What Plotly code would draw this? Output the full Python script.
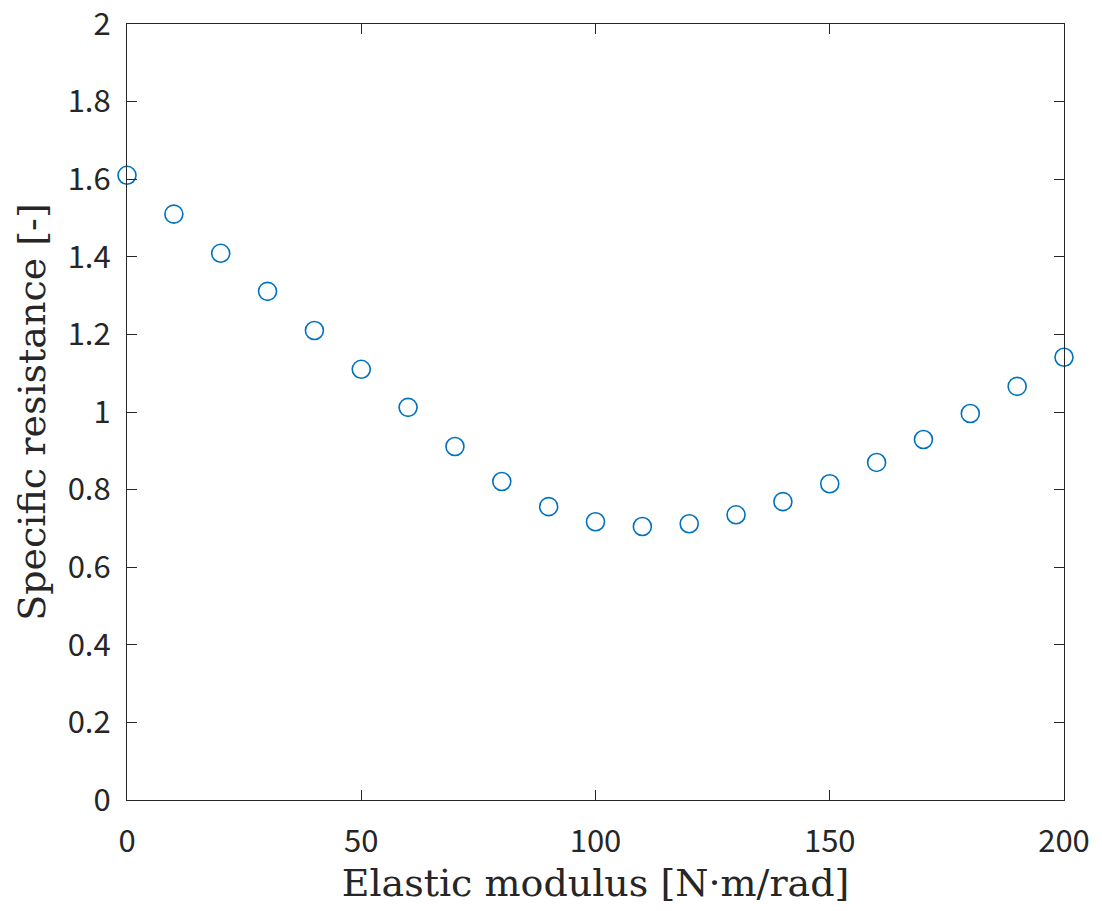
import plotly.graph_objects as go

# Elastic modulus [N·m/rad]
modulus = [0, 10, 20, 30, 40, 50, 60, 70, 80, 90, 100,
           110, 120, 130, 140, 150, 160, 170, 180, 190, 200]
# Specific resistance [-]
resistance = [1.610, 1.510, 1.409, 1.311, 1.210, 1.110, 1.012, 0.911, 0.821, 0.756, 0.717,
              0.705, 0.712, 0.735, 0.769, 0.815, 0.870, 0.929, 0.996, 1.066, 1.141]

x_ticks = [0, 50, 100, 150, 200]
y_ticks = [0, 0.2, 0.4, 0.6, 0.8, 1.0, 1.2, 1.4, 1.6, 1.8, 2.0]
y_ticklabels = ['0', '0.2', '0.4', '0.6', '0.8', '1', '1.2', '1.4', '1.6', '1.8', '2']

axis_color = '#262626'
tick_font = dict(family='Noto Sans CJK JP', size=31, color=axis_color)
title_font = dict(family='DejaVu Serif', size=38, color=axis_color)

fig = go.Figure()

fig.add_trace(go.Scatter(
    x=modulus,
    y=resistance,
    mode='markers',
    marker=dict(symbol='circle-open', size=18, color='#0072BD',
                line=dict(width=1.6, color='#0072BD')),
    cliponaxis=False,
    showlegend=False
))

axis_common = dict(
    showline=True, linecolor=axis_color, linewidth=1.2, mirror='ticks',
    ticks='inside', ticklen=10, tickwidth=1.2, tickcolor=axis_color,
    showgrid=False, zeroline=False, tickfont=tick_font,
    ticklabeloverflow='allow', automargin=False,
)

fig.update_xaxes(
    range=[0, 200], tickvals=x_ticks, ticktext=[str(v) for v in x_ticks],
    ticklabelstandoff=14,
    title=dict(text='Elastic modulus [N·m/rad]', font=title_font, standoff=9),
    **axis_common
)
fig.update_yaxes(
    range=[0, 2.000001], tickvals=y_ticks, ticktext=y_ticklabels,
    ticklabelstandoff=9,
    title=dict(text='Specific resistance [-]', font=title_font, standoff=10),
    **axis_common
)

# the page body adds an 8 px offset, so the figure is shifted back by that amount
fig.update_layout(
    width=1094, height=903,
    margin=dict(l=119, r=38, t=16, b=111),
    plot_bgcolor='white', paper_bgcolor='white',
)

fig.write_html("out.html")
